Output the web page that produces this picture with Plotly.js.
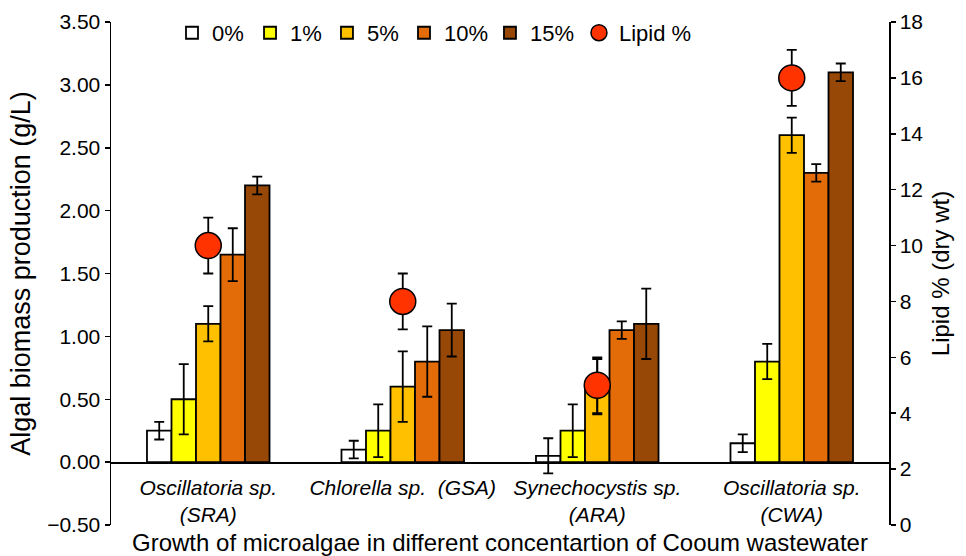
<!DOCTYPE html>
<html>
<head>
<meta charset="utf-8">
<script src="https://cdn.plot.ly/plotly-3.0.1.min.js"></script>
<style>html,body{margin:0;padding:0;background:#fff;}#chart{width:966px;height:556px;}</style>
</head>
<body>
<div id="chart"></div>
<script>
const categories = [
  "<i>Oscillatoria sp.</i><br><i>(SRA)</i>",
  "<i>Chlorella sp.  (GSA)</i>",
  "<i>Synechocystis sp.</i><br><i>(ARA)</i>",
  "<i>Oscillatoria sp.</i><br><i>(CWA)</i>"
];
const seriesNames = ["0%", "1%", "5%", "10%", "15%"];
const biomass0  = [0.25, 0.10, 0.05, 0.15];
const biomass1  = [0.50, 0.25, 0.25, 0.80];
const biomass5  = [1.10, 0.60, 0.60, 2.60];
const biomass10 = [1.65, 0.80, 1.05, 2.30];
const biomass15 = [2.20, 1.05, 1.10, 3.10];
const err0  = [0.07, 0.07, 0.14, 0.07];
const err1  = [0.28, 0.21, 0.21, 0.14];
const err5  = [0.14, 0.28, 0.22, 0.14];
const err10 = [0.21, 0.28, 0.07, 0.07];
const err15 = [0.07, 0.21, 0.28, 0.07];
const lipid = [10, 8, 5, 16];
const lipidErr = [1, 1, 1, 1];
const colors = ["#FFFFFF", "#FFFF00", "#FFC000", "#E36C09", "#974806"];

const values = [biomass0, biomass1, biomass5, biomass10, biomass15];
const errs = [err0, err1, err5, err10, err15];
const font = "Liberation Sans, Arial, sans-serif";
const legendIds = ["legend", "legend2", "legend3", "legend4", "legend5", "legend6"];
const legendX = [0.0784, 0.1787, 0.2776, 0.3766, 0.4871, 0.6015];

const traces = values.map((v, i) => ({
  type: "bar",
  name: seriesNames[i],
  x: categories,
  y: v,
  legend: legendIds[i],
  marker: {color: colors[i], line: {color: "#000", width: 1.8}},
  error_y: {type: "data", array: errs[i], visible: true, color: "#000", thickness: 1.8, width: 5}
}));
traces.push({
  type: "scatter",
  mode: "markers",
  name: "Lipid %",
  x: categories,
  y: lipid,
  yaxis: "y2",
  legend: legendIds[5],
  marker: {color: "#FF3300", size: 26, line: {color: "#000", width: 1.5}},
  error_y: {type: "data", array: lipidErr, visible: true, color: "#000", thickness: 1.8, width: 5}
});

const layout = {
  width: 966, height: 556,
  margin: {l: 111, r: 77, t: 20, b: 31},
  paper_bgcolor: "#fff", plot_bgcolor: "#fff",
  font: {family: font, size: 21, color: "#000"},
  barmode: "group",
  bargap: 0.37,
  bargroupgap: 0,
  showlegend: true,
  xaxis: {
    type: "category",
    anchor: "free", position: 0.125,
    showline: true, linecolor: "#000", linewidth: 1.5,
    ticks: "", showgrid: false, zeroline: false,
    tickfont: {family: font, size: 21},
    ticklabelstandoff: 6,
    title: {text: "Growth of microalgae in different concentartion of Cooum wastewater",
            font: {family: font, size: 24}, standoff: 19}
  },
  yaxis: {
    range: [-0.5, 3.5], dtick: 0.5, tickformat: ".2f",
    showline: true, linecolor: "#000", linewidth: 1.5,
    ticks: "outside", ticklen: 5, tickwidth: 1.5, tickcolor: "#000",
    showgrid: false, zeroline: false,
    tickfont: {family: font, size: 21},
    title: {text: "Algal biomass production (g/L)", font: {family: font, size: 27}, standoff: 8}
  },
  yaxis2: {
    overlaying: "y", side: "right",
    range: [0, 18], dtick: 2,
    showline: true, linecolor: "#000", linewidth: 1.5,
    ticks: "outside", ticklen: 5, tickwidth: 1.5, tickcolor: "#000",
    showgrid: false, zeroline: false,
    tickfont: {family: font, size: 21},
    title: {text: "Lipid % (dry wt)", font: {family: font, size: 24}, standoff: 10}
  }
};
legendIds.forEach((id, i) => {
  layout[id] = {
    orientation: "h", xanchor: "left", x: legendX[i], y: 1.02, yanchor: "top",
    bgcolor: "rgba(0,0,0,0)", font: {family: font, size: 22}, itemwidth: 30
  };
});

Plotly.newPlot("chart", traces, layout, {displayModeBar: false, staticPlot: true});
</script>
</body>
</html>
